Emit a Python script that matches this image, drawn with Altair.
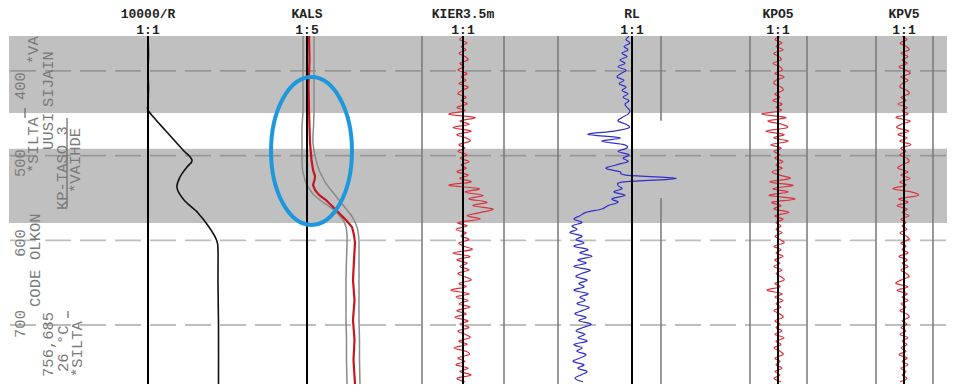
import altair as alt
import pandas as pd

# ---------------- data ----------------
track_names = ["10000/R", "KALS", "KIER3.5m", "RL", "KPO5", "KPV5"]
track_scales = ["1:1", "1:5", "1:1", "1:1", "1:1", "1:1"]
track_zero = [139, 298, 454, 623, 769, 895]          # column zero lines (x units)

grid_m = [400, 500, 600, 700]
band_start = [358.7, 492.0]
band_end = [449.5, 579.5]

# gray separator lines: x, from, to (m)
sep_x = [413, 495, 549, 652, 652, 741, 798, 867, 924]
sep_from = [358.7, 358.7, 358.7, 358.7, 550.0, 358.7, 358.7, 358.7, 358.7]
sep_to = [769.7, 769.7, 769.7, 458.7, 769.7, 769.7, 769.7, 769.7, 769.7]

# 10000/R curve
r_dist = [358.7, 380, 400, 420, 440, 446.1, 457.9, 469.7, 481.5, 493.3, 505.1,
          513.4, 525.2, 538.2, 552.4, 567.7, 584.3, 599.6, 611.4, 650, 700, 769.7]
r_val = [0, 0.5, 0, 0.5, 0, 0, 8, 17, 26, 35, 44,
         39, 32, 29, 36, 50, 61, 68.5, 70, 70, 70.5, 70.5]

# KALS (center and envelope)
kals_dist = [358.7, 387.0, 416.5, 446.1, 466.1, 485.0, 505.1, 516.9, 524.0, 528.7,
             534.6, 540.5, 546.5, 552.4, 558.3, 564.2, 570.1, 576.0, 584.3, 593.7,
             603.2, 623.2, 646.9, 670.5, 694.1, 717.7, 741.3, 769.7]
kals_mid = [2, 2.5, 1.5, 2, 2.5, 3, 4.5, 6, 8, 7.5,
            6, 8, 12, 19, 24, 29, 34, 39, 45, 47,
            48, 47, 46, 47.5, 46, 47.5, 46.5, 48]
kals_lo = [-4, -4, -4, -4, -5, -5, -5, -4.5, -3, -2,
           0, 3, 7, 13, 20, 27, 32, 36, 39, 40,
           40, 39.5, 39, 39, 39, 39.5, 39.5, 40]
kals_hi = [7, 7, 7, 7, 6.5, 6, 9, 12, 15, 17,
           20, 24, 28, 32, 36, 40, 44, 47, 50, 51.5,
           52, 52, 52, 52, 52, 52.5, 52.5, 53]

# noisy channels, sampled every 4 m from 359 m
noisy_start = 359.0
noisy_step = 4.0
kier = [1, -3, 4, -2, 3, -4, 2, 5, -3, 1, -5, 4, -2, 3, -4, 5, -1, -5, 3, -2, 4, -6, 2,
        -14, 12, -3, 6, -10, 8, -6, 3, 7, -4,
        2, -5, 4, -3, 6, -2, 3, -6, 5, -3, 8, -14,
        16, 2, 20, 6, 24, 10, 30, 18, 4, 17, -5,
        4, -7, 3, -2, 6, -4, 1, 9, -10, 7, -6, 4, -3, 6, -5, 2, 8, -4, 3, -12, 6, -7, 5, -4,
        7, -6, 3, -8, 5, -3, 6, -5, 2, 7, -4, 4, -9, 3, 6, -5, 2, -7, 5, -3, 8, -6, 2]
rl = [-3, -6, -2, -8, -4, -10, -5, -12, -7, -14, -6, -11, -15, -8, -13, -6, -10, -4, -9, -3, -7, -5, -2,
      -4, -10, -14, -6, -3, -18, -44, -12, -30, -8,
      -5, -14, -3, -9, -4, -16, -26, -12, -6, 44, -8, -14, -10, -18, -7, -20, -14, -24, -30, -46, -52, -58, -50,
      -60, -55, -62, -50, -56, -48, -58, -44, -52, -40, -54, -46, -58, -42, -50, -56, -45, -53, -48, -58,
      -44, -52, -47, -55, -43, -50, -57, -46, -53, -41, -49, -56, -47, -54, -45, -58, -50, -55, -46, -52,
      -59, -48, -54, -45, -51, -57, -49]
kpo5 = [2, -3, 4, -2, 5, -4, 1, 3, -5, 2, 4, -3, 6, -2, -4, 3, 5, -3, 2, -5, 4, -2, 3,
        -16, 8, -10, 4, 9, -12, 6, -4, 10, -7,
        3, -4, 2, -3, 5, -2, 4, -6, 2, 12, -8, 15, -5, 10, -9, 17, -6, 3, -4, 11, -3, 5, -2,
        3, -2, 4, -3, 2, 6, -4, 3, -2, 5, -3, 2, -4, 4, -2, 3, 6, -3, 2, -11, 4, -3, 5, -2,
        3, -4, 2, 5, -3, 2, -2, 4, -3, 6, -2, 3, -4, 2, 5, -3, 2, -2, 4, -3, 2, -4, 3]
kpv5 = [-2, 3, -4, 2, 5, -3, 4, -2, 3, -5, 2, 6, -3, 4, -2, -4, 3, 5, -3, 2, -6, 3, -2,
        4, -8, 6, -3, -7, 5, -6, 3, -4, 7,
        -3, 2, -4, 3, 5, -2, -6, 4, -3, 6, -4, 2, -11, 8, 14, -5, 4, -7, 3, -2, 5, -3, 2,
        -2, 3, -4, 2, 5, -3, 2, -2, 4, -5, 3, -2, 4, -3, 2, 5, -3, -8, 4, -7, 3, -2, 4, -3,
        2, -4, 3, 5, -2, 3, -3, 2, -4, 4, -2, 3, -3, 2, -5, 3, -2, 4, -3, 2, -2, 3, -4]

# left-hand annotations (rotated): text, column x, start position (m)
ann_text = ["400", "500", "600", "700",
            "*VA", "SIJAIN", "*SILTA", "UUSI", "KP-TASO 3", "*VAIHDE",
            "OLKON", "CODE", "756,685", "26 °C", "*SILTA"]
ann_x = [11, 11, 11, 11,
         24, 39, 24, 39, 53, 66,
         26, 26, 39, 54, 68]
ann_d = [434.3, 525.2, 619.7, 715.3,
         392.0, 442.5, 520.5, 493.3, 564.2, 544.1,
         623.2, 678.7, 761.4, 755.5, 761.4]

mark_x = [16, 58, 59]
mark_from = [443.7, 455.5, 683.5]
mark_to = [455.5, 560.6, 691.7]

ellipse_x = [302.5]
ellipse_d = [494.5]

# ---------------- frames ----------------
bands = pd.DataFrame({"a": band_start, "b": band_end})
grid = pd.DataFrame({"d": grid_m})
seps = pd.DataFrame({"x": sep_x, "a": sep_from, "b": sep_to})
zeros = pd.DataFrame({"x": track_zero})
titles = pd.DataFrame({"x": track_zero, "name": track_names, "scale": track_scales})

z = dict(zip(track_names, track_zero))
smooth = pd.DataFrame({"s": "R", "d": r_dist,
                       "x": [z["10000/R"] + v for v in r_val], "c": "#111111"})

rows = []
for d, lo, hi in zip(kals_dist, kals_lo, kals_hi):
    rows.append(("lo", d, z["KALS"] + lo, "#8a8a8a"))
    rows.append(("hi", d, z["KALS"] + hi, "#8a8a8a"))
kals_env = pd.DataFrame(rows, columns=["s", "d", "x", "c"])
kals_red = pd.DataFrame({"d": kals_dist, "x": [z["KALS"] + m for m in kals_mid]})

rows = []
for name, vals, col in [("KIER3.5m", kier, "#d8343f"), ("RL", rl, "#3030c8"),
                        ("KPO5", kpo5, "#d8343f"), ("KPV5", kpv5, "#d8343f")]:
    for i, v in enumerate(vals):
        rows.append((name, noisy_start + noisy_step * i, z[name] + v, col))
noisy = pd.DataFrame(rows, columns=["s", "d", "x", "c"])

ann = pd.DataFrame({"t": ann_text, "x": ann_x, "d": ann_d})
marks = pd.DataFrame({"x": mark_x, "a": mark_from, "b": mark_to})
ell = pd.DataFrame({"x": ellipse_x, "d": ellipse_d})

# ---------------- chart ----------------
W, H = 938, 348
xs = alt.Scale(domain=[0, W], nice=False, zero=False)
ys = alt.Scale(domain=[358.7, 769.7], nice=False, zero=False, reverse=True)


def X(f):
    return alt.X(f, type="quantitative", scale=xs, axis=None)


def Y(f):
    return alt.Y(f, type="quantitative", scale=ys, axis=None)


band_layer = alt.Chart(bands).mark_rect(color="#c0c0c0").encode(
    y=Y("a"), y2="b", x=alt.value(0), x2=alt.value(W))

grid_layer = alt.Chart(grid).mark_rule(
    color="#555555", opacity=0.38, strokeWidth=1.8, strokeDash=[26, 9]).encode(
    y=Y("d"), x=alt.value(1), x2=alt.value(W))

sep_layer = alt.Chart(seps).mark_rule(color="#777777", opacity=0.75, strokeWidth=2).encode(
    x=X("x"), y=Y("a"), y2="b")

smooth_layer = alt.Chart(smooth).mark_line(
    strokeWidth=1.6, interpolate="cardinal", clip=True).encode(
    x=X("x"), y=Y("d"), order="d:Q", detail="s:N",
    color=alt.Color("c:N", scale=None))

env_layer = alt.Chart(kals_env).mark_line(
    strokeWidth=1.5, interpolate="cardinal", clip=True).encode(
    x=X("x"), y=Y("d"), order="d:Q", detail="s:N",
    color=alt.Color("c:N", scale=None))

kred_layer = alt.Chart(kals_red).mark_line(
    strokeWidth=2.2, color="#c8141e", interpolate="linear", clip=True).encode(
    x=X("x"), y=Y("d"), order="d:Q")

noisy_layer = alt.Chart(noisy).mark_line(
    strokeWidth=1.2, interpolate="cardinal", clip=True).encode(
    x=X("x"), y=Y("d"), order="d:Q", detail="s:N",
    color=alt.Color("c:N", scale=None))

zero_layer = alt.Chart(zeros).mark_rule(color="#000000", strokeWidth=2).encode(x=X("x"))

ann_layer = alt.Chart(ann).mark_text(
    angle=270, align="left", baseline="middle", font="Liberation Mono",
    fontSize=15.5, color="#7a7a7a").encode(
    x=X("x"), y=Y("d"), text="t:N")

mark_layer = alt.Chart(marks).mark_rule(color="#666666", strokeWidth=1.2).encode(
    x=X("x"), y=Y("a"), y2="b")

ell_layer = alt.Chart(ell).mark_point(
    shape="M0,-1 C0.302,-1 0.547,-0.552 0.547,0 C0.547,0.552 0.302,1 0,1 "
          "C-0.302,1 -0.547,0.552 -0.547,0 C-0.547,-0.552 -0.302,-1 0,-1 Z",
    size=21904, filled=False, color="#1e98dc", strokeWidth=4, opacity=1).encode(
    x=X("x"), y=Y("d"))

title_font = dict(font="Liberation Mono", fontWeight="bold", fontSize=13, color="#222222",
                  align="center", baseline="alphabetic")
title1 = alt.Chart(titles).mark_text(**title_font).encode(
    x=X("x"), y=alt.value(-18), text="name:N")
title2 = alt.Chart(titles).mark_text(**title_font).encode(
    x=X("x"), y=alt.value(-2), text="scale:N")

chart = alt.layer(
    band_layer, grid_layer, sep_layer, smooth_layer, env_layer, kred_layer,
    noisy_layer, zero_layer, mark_layer, ann_layer, ell_layer, title1, title2
).properties(
    width=W, height=H, autosize="none",
    padding={"left": 1, "top": 28, "right": 0, "bottom": 0}
).configure_view(strokeWidth=0)

chart.save("out.html", embed_options={"renderer": "svg", "actions": False})
